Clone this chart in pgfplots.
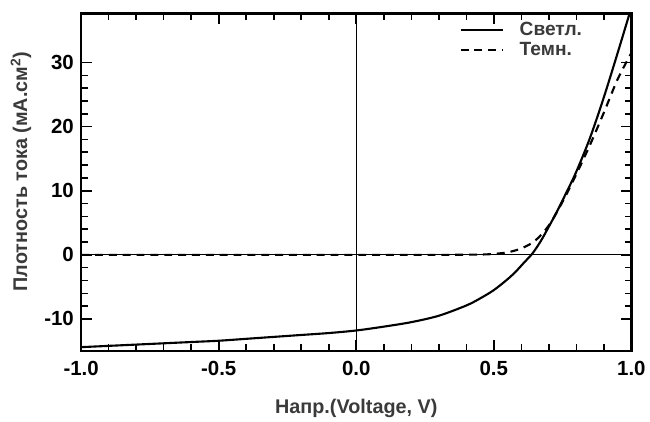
\documentclass[border=0pt]{standalone}
\usepackage{fontspec}
\setmainfont{Liberation Sans}
\usepackage{pgfplots}
\pgfplotsset{compat=1.18}
\definecolor{lab}{HTML}{3A3A3A}
\begin{document}
\begin{tikzpicture}
\begin{axis}[
  scale only axis,
  width=417pt, height=256pt,
  xmin=-1, xmax=1, ymin=-15, ymax=37.7,
  axis line style={line width=2pt},
  tick style={line width=1.2pt, black},
  major tick length=8pt, minor tick length=5pt,
  tick align=inside,
  xtick={-1,-0.5,0,0.5,1}, ytick={-10,0,10,20,30},
  minor x tick num=4, minor y tick num=4,
  xticklabel style={/pgf/number format/fixed, /pgf/number format/fixed zerofill, /pgf/number format/precision=1, yshift=-4pt},
  /pgf/number format/assume math mode=true,
  ticklabel style={font=\fontsize{15.5pt}{17pt}\selectfont\bfseries},
  yticklabel style={xshift=-2pt},
  xlabel={Напр.(Voltage, V)},
  ylabel={Плотность тока (мА.см$^{\mathbf{2}}$)},
  label style={font=\fontsize{15pt}{17pt}\selectfont\bfseries, text=lab},
  xlabel style={yshift=-11pt},
  ylabel style={yshift=3pt, xshift=8pt},
  legend style={at={(0.68,0.99)}, anchor=north west, draw=none, fill=none,
    font=\fontsize{14.5pt}{16pt}\selectfont\bfseries, text=lab,
    row sep=0pt, /tikz/every odd column/.append style={column sep=10pt}},
  legend cell align=left,
  legend image code/.code={\draw[#1, line width=1.6pt] (0pt,0pt) -- (32pt,0pt);},
]
\addplot[black, line width=0.7pt, forget plot] coordinates {(0,-15) (0,37.7)};
\addplot[black, line width=0.7pt, forget plot] coordinates {(-1,0) (1,0)};
\addplot[black, line width=1.6pt, smooth] coordinates {
(-1.0,-14.4) (-0.9,-14.2) (-0.8,-14.0) (-0.7,-13.8) (-0.6,-13.6) (-0.5,-13.4)
(-0.4,-13.1) (-0.3,-12.8) (-0.2,-12.5) (-0.1,-12.2) (0.0,-11.8) (0.1,-11.2)
(0.2,-10.5) (0.3,-9.5) (0.4,-7.9) (0.45,-6.8) (0.5,-5.5) (0.55,-3.8)
(0.58,-2.6) (0.61,-1.2) (0.64,0.2) (0.67,2.1) (0.70,4.4) (0.73,6.8)
(0.76,9.4) (0.8,13.0) (0.85,18.3) (0.9,24.6) (0.95,31.5) (1.0,38.6)};
\addlegendentry{Светл.}
\addplot[black, line width=1.6pt, dash pattern=on 6pt off 4.5pt, smooth] coordinates {
(-1.0,0) (-0.5,0) (0.0,0) (0.3,0) (0.45,0.05) (0.5,0.15) (0.55,0.4)
(0.6,1.0) (0.65,2.2) (0.7,4.6) (0.75,8.3) (0.8,12.6) (0.85,17.2)
(0.9,22.2) (0.95,27.4) (1.0,31.5)};
\addlegendentry{Темн.}
\end{axis}
\path[use as bounding box] ([shift={(-61.5pt,-50pt)}]current axis.south west) rectangle ([shift={(9pt,10pt)}]current axis.north east);
\end{tikzpicture}
\end{document}
